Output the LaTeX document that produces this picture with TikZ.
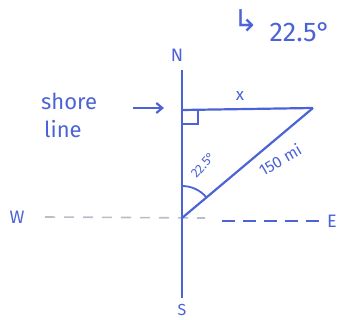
\documentclass[tikz,border=0pt]{standalone}
\usepackage{fontspec}
\setmainfont{Fira Sans}
\newfontfamily\symfont{DejaVu Sans}
\usetikzlibrary{arrows.meta}
\definecolor{ink}{HTML}{4C63D6}
\definecolor{faint}{HTML}{B9BDCA}
\begin{document}
\begin{tikzpicture}[x=1pt,y=-1pt,
  lbl/.style={text=ink,inner sep=0pt},
  axisline/.style={draw=ink,line width=2.6pt},
  edge/.style={draw=ink,line width=2.2pt},
  thin/.style={draw=ink,line width=1.8pt},
  dashblue/.style={draw=ink,line width=1.6pt,dash pattern=on 13pt off 8pt},
  dashgray/.style={draw=faint,line width=1.6pt,dash pattern=on 10pt off 9pt}]
\useasboundingbox (0,0) rectangle (340,320);
% key points
\coordinate (top) at (182,70);
\coordinate (bot) at (182,298);
\coordinate (O) at (182,218);
\coordinate (F) at (182,110);
\coordinate (P) at (313,108);
\coordinate (wl) at (45,217);
\coordinate (wr) at (205,218);
\coordinate (el) at (222,221);
\coordinate (er) at (325,221);
\coordinate (arrtip) at (164,108);
% compass labels
\node[lbl,font=\fontsize{18}{18}\selectfont] (N) at (177,55) {N};
\node[lbl,font=\fontsize{16}{16}\selectfont] (S) at (182,310) {S};
\node[lbl,font=\fontsize{18}{18}\selectfont] (W) at (17,217) {W};
\node[lbl,font=\fontsize{18}{18}\selectfont] (E) at (332,221) {E};
% axes
\draw[dashgray] (wl) -- (wr);
\draw[dashblue] (el) -- (er);
\draw[axisline] (top) -- (bot);
% triangle
\draw[edge] (F) -- (P);
\draw[edge] (O) -- (P);
\draw[thin] (F) ++(0,14) -- ++(16,0) -- ++(0,-14);
\draw[thin] (O) ++(0,-32) arc[start angle=-90,end angle=-40,radius=32];
% labels
\node[lbl,font=\fontsize{17}{17}\selectfont] (xl) at (240,96) {x};
\node[lbl,rotate=48,font=\fontsize{13}{13}\selectfont] (ang) at (203,165) {22.5°};
\node[lbl,rotate=30,font=\fontsize{16}{16}\selectfont] (dist) at (280,160) {150 mi};
\node[lbl,anchor=west,font=\fontsize{22}{22}\selectfont] (shore) at (41,101) {shore};
\node[lbl,anchor=west,font=\fontsize{22}{22}\selectfont] (line) at (44,129) {line};
\draw[edge,-{Straight Barb[length=6pt,width=10pt]}] (133,108) -- (arrtip);
% top note
\node[lbl,font=\symfont\fontsize{30}{30}\selectfont] (hook) at (246,21) {↳};
\node[lbl,font=\fontsize{27}{27}\selectfont] (top22) at (300,32) {22.5°};
\end{tikzpicture}
\end{document}
